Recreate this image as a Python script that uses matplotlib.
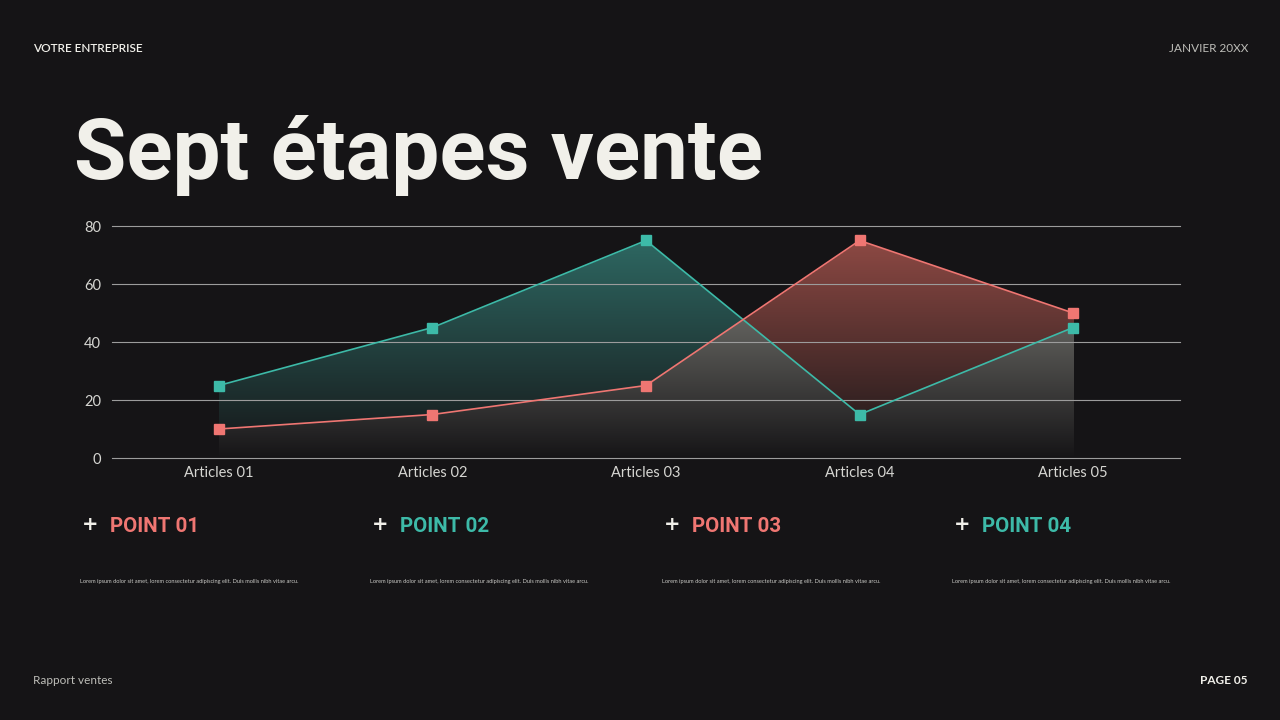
import numpy as np
import matplotlib
matplotlib.use("Agg")
import matplotlib.pyplot as plt

# ---- data ----
categories = ["Articles 01", "Articles 02", "Articles 03", "Articles 04", "Articles 05"]
series_teal = [25, 45, 75, 15, 45]
series_red = [10, 15, 25, 75, 50]
y_ticks = [0, 20, 40, 60, 80]
point_titles = ["POINT 01", "POINT 02", "POINT 03", "POINT 04"]
lorem = "Lorem ipsum dolor sit amet, lorem consectetur adipiscing elit. Duis mollis nibh vitae arcu."

# ---- style ----
BG = "#151416"
TEAL = "#3dbaa8"
RED = "#ef7672"
GRID = "#9c9c9c"
LABEL = "#d6d6d2"
WHITE = "#f1f0ea"
FONT = ["Lato", "DejaVu Sans"]

plt.rcParams["font.family"] = FONT

fig = plt.figure(figsize=(12.8, 7.2), dpi=100, facecolor=BG)
ax = fig.add_axes([112 / 1280, 262 / 720, 1068 / 1280, 232 / 720])
ax.set_facecolor(BG)

x = np.arange(len(categories))
ymax = 80
ax.set_xlim(-0.5, len(categories) - 0.5)
ax.set_ylim(0, ymax)

# ---- gradient area fills (computed from the data) ----
xs = np.linspace(x[0], x[-1], 1200)
ys = np.linspace(0, ymax, 600)
X, Y = np.meshgrid(xs, ys)
tv = np.interp(xs, x, series_teal)[None, :]
rv = np.interp(xs, x, series_red)[None, :]
in_t = Y <= tv
in_r = Y <= rv
t = (Y / ymax) ** 0.95

bg = np.array([21, 20, 22]) / 255.0
top_teal = np.array([47, 108, 102]) / 255.0
top_red = np.array([148, 76, 70]) / 255.0
top_gray = np.array([145, 145, 138]) / 255.0

img = np.zeros(Y.shape + (4,))
for mask, top in ((in_t & ~in_r, top_teal), (in_r & ~in_t, top_red), (in_t & in_r, top_gray)):
    col = bg[None, None, :] + (top - bg)[None, None, :] * t[..., None]
    img[mask, :3] = col[mask]
    img[mask, 3] = 1.0

ax.imshow(img, extent=(x[0], x[-1], 0, ymax), origin="lower", aspect="auto",
          interpolation="bilinear", zorder=1)

# ---- grid ----
ax.set_yticks(y_ticks)
ax.set_xticks(x)
ax.set_xticklabels(categories)
for yv in y_ticks:
    ax.axhline(yv, color=GRID, lw=0.8, zorder=2, clip_on=False)
for s in ax.spines.values():
    s.set_visible(False)
ax.tick_params(axis="both", length=0, colors=LABEL, labelsize=10.5)
ax.tick_params(axis="y", pad=8)
ax.tick_params(axis="x", pad=6)
for lab in ax.get_xticklabels() + ax.get_yticklabels():
    lab.set_color(LABEL)

# ---- lines ----
ax.plot(x, series_teal, color=TEAL, lw=1.2, marker="s", ms=7, zorder=4, clip_on=False)
ax.plot(x, series_red, color=RED, lw=1.2, marker="s", ms=7, zorder=5, clip_on=False)

# ---- header / footer ----
fig.text(33 / 1280, 1 - 48 / 720, "VOTRE ENTREPRISE", color=WHITE, fontsize=8.5,
         fontweight="semibold", va="center", ha="left")
fig.text(1248 / 1280, 1 - 48 / 720, "JANVIER 20XX", color="#bdbdb8", fontsize=8.5,
         va="center", ha="right")
fig.text(33 / 1280, 1 - 680 / 720, "Rapport ventes", color="#bdbdb8", fontsize=8.5,
         va="center", ha="left")
fig.text(1248 / 1280, 1 - 680 / 720, "PAGE 05", color=WHITE, fontsize=8.5,
         fontweight="bold", va="center", ha="right")

# ---- title ----
fig.text(74 / 1280, 1 - 179 / 720, "Sept étapes vente", color=WHITE, fontsize=61.5,
         fontweight="bold", family=["Roboto", "DejaVu Sans"],
         va="baseline", ha="left")

# ---- points ----
plus_x = [90, 380, 672, 962]
pt_colors = [RED, TEAL, RED, TEAL]
for px, title, c in zip(plus_x, point_titles, pt_colors):
    fig.text(px / 1280, 1 - 525 / 720, "+", color=WHITE, fontsize=14, fontweight="bold",
             family=["DejaVu Sans"], ha="center", va="center")
    fig.text((px + 20) / 1280, 1 - 527 / 720, title, color=c, fontsize=14.8,
             fontweight="bold", family=["Roboto", "DejaVu Sans"], ha="left", va="center")
    fig.text((px - 10) / 1280, 1 - 581 / 720, lorem, color="#c8c8c4", fontsize=4.1,
             ha="left", va="center")

fig.savefig("out.png", dpi=100, facecolor=BG)
